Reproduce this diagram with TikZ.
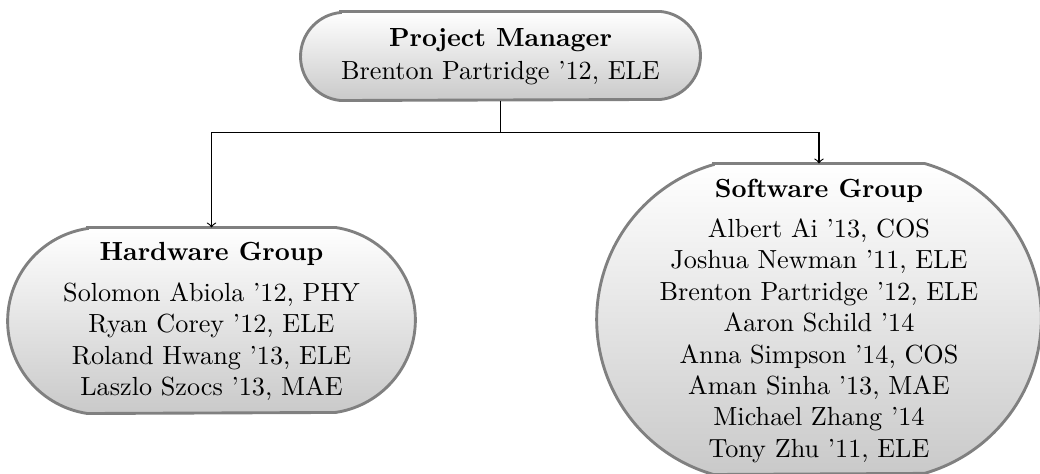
\documentclass[tikz,border=0pt]{standalone}
\usetikzlibrary{calc}
\def\u{0.38168pt}
\tikzset{
  box/.style={draw=none, align=center, inner sep=0pt, font=\normalsize},
  boxline/.style={draw=black!50, line width=1.1pt, top color=white, bottom color=black!21},
  conn/.style={draw=black, line width=0.45pt, ->},
}
\begin{document}
\begin{tikzpicture}[x=\u, y=\u]
\useasboundingbox (0,0) rectangle (1040,474);
% node frames (sizes in px units)
\node[box, minimum width=399*\u, minimum height=88*\u] (pm) at (500.5,418) {};
\node[box, minimum width=407*\u, minimum height=185*\u] (hw) at (211.5,153.5) {};
\node[box, minimum width=446*\u, minimum height=310*\u] (sw) at (819,155) {};
% borders with circular end arcs
\path[boxline] ($(pm.north west)+(40,0)$) -- ($(pm.north east)+(-40,0)$)
  arc[start angle=84.5, end angle=-84.5, radius=44.2]
  -- ($(pm.south west)+(40,0)$)
  arc[start angle=264.5, end angle=95.5, radius=44.2] -- cycle;
\path[boxline] ($(hw.north west)+(80,0)$) -- ($(hw.north east)+(-80,0)$)
  arc[start angle=81.6, end angle=-81.6, radius=93.5]
  -- ($(hw.south west)+(80,0)$)
  arc[start angle=261.6, end angle=98.4, radius=93.5] -- cycle;
\path[boxline] ($(sw.north west)+(118,0)$) -- ($(sw.north east)+(-118,0)$)
  arc[start angle=74.0, end angle=-74.0, radius=161.2]
  -- ($(sw.south west)+(118,0)$)
  arc[start angle=254.0, end angle=106.0, radius=161.2] -- cycle;
% texts
\node[box] (pmt) at ($(pm.center)+(0,-1)$) {\textbf{Project Manager}\\[0.5pt] Brenton Partridge '12, ELE};
\node[box] (hwt) at ($(hw.center)+(0,-1)$) {\textbf{Hardware Group}\\[3.5pt]
  Solomon Abiola '12, PHY\\ Ryan Corey '12, ELE\\ Roland Hwang '13, ELE\\ Laszlo Szocs '13, MAE};
\node[box] (swt) at ($(sw.center)+(0,-2)$) {\textbf{Software Group}\\[3.2pt]
  Albert Ai '13, COS\\ Joshua Newman '11, ELE\\ Brenton Partridge '12, ELE\\ Aaron Schild '14\\
  Anna Simpson '14, COS\\ Aman Sinha '13, MAE\\ Michael Zhang '14\\ Tony Zhu '11, ELE};
% connectors
\coordinate (split) at ($(pm.south)+(0,-32)$);
\draw[conn] (pm.south) -- (split) -| (hw.north);
\draw[conn] (split) -| (sw.north);
\end{tikzpicture}
\end{document}
